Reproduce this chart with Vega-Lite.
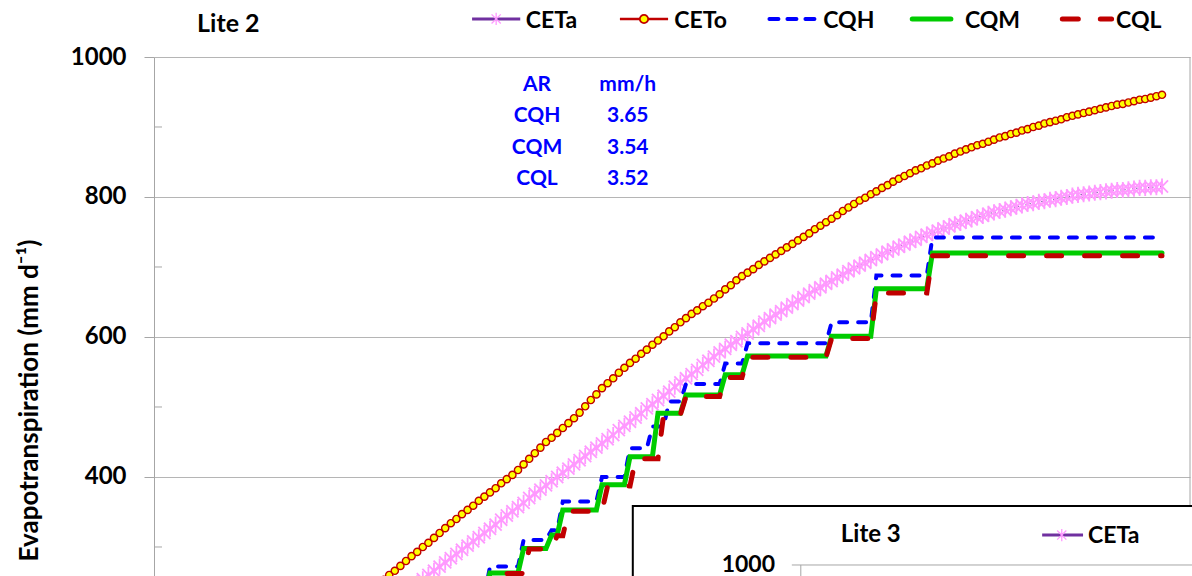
{
  "$schema": "https://vega.github.io/schema/vega-lite/v6.json",
  "autosize": "none",
  "width": 1036,
  "height": 519,
  "padding": {"left": 154, "top": 57, "right": 2, "bottom": 0},
  "background": "white",
  "config": {
    "view": {"stroke": null},
    "axisX": {"disable": true},
    "axisY": {
      "domainColor": "#A6A6A6", "gridColor": "#B5B5B5", "tickColor": "#A6A6A6", "tickSize": 10, "labelPadding": 18,
      "labelFont": "Lato", "labelFontSize": 24, "labelFontWeight": "bold", "labelColor": "black",
      "titleFont": "Lato", "titleFontSize": 26, "titleFontWeight": "bold", "titleColor": "black",
      "titleAngle": -90, "titleX": -125, "titleY": 343, "titleAlign": "center", "titleBaseline": "middle"
    }
  },
  "datasets": {
    "et": [
      {"day":40,"CETo":246,"CETa":206},{"day":41,"CETo":253,"CETa":212},{"day":42,"CETo":260,"CETa":218},{"day":43,"CETo":266,"CETa":224},{"day":44,"CETo":273,"CETa":230},
      {"day":45,"CETo":280,"CETa":236},{"day":46,"CETo":287,"CETa":242},{"day":47,"CETo":293,"CETa":248},{"day":48,"CETo":300,"CETa":254},{"day":49,"CETo":306,"CETa":260},
      {"day":50,"CETo":313,"CETa":266},{"day":51,"CETo":320,"CETa":272},{"day":52,"CETo":327,"CETa":278},{"day":53,"CETo":334,"CETa":284},{"day":54,"CETo":340,"CETa":290},
      {"day":55,"CETo":347,"CETa":296},{"day":56,"CETo":353,"CETa":302},{"day":57,"CETo":359,"CETa":308},{"day":58,"CETo":366,"CETa":314},{"day":59,"CETo":372,"CETa":320},
      {"day":60,"CETo":378,"CETa":326},{"day":61,"CETo":384,"CETa":332},{"day":62,"CETo":391,"CETa":339},{"day":63,"CETo":397,"CETa":345},{"day":64,"CETo":403,"CETa":351},
      {"day":65,"CETo":410,"CETa":357},{"day":66,"CETo":418,"CETa":363},{"day":67,"CETo":426,"CETa":370},{"day":68,"CETo":434,"CETa":376},{"day":69,"CETo":442,"CETa":382},
      {"day":70,"CETo":450,"CETa":388},{"day":71,"CETo":456,"CETa":394},{"day":72,"CETo":463,"CETa":400},{"day":73,"CETo":470,"CETa":406},{"day":74,"CETo":477,"CETa":412},
      {"day":75,"CETo":484,"CETa":418},{"day":76,"CETo":492,"CETa":424},{"day":77,"CETo":501,"CETa":430},{"day":78,"CETo":510,"CETa":436},{"day":79,"CETo":518,"CETa":442},
      {"day":80,"CETo":527,"CETa":448},{"day":81,"CETo":534,"CETa":454},{"day":82,"CETo":541,"CETa":460},{"day":83,"CETo":549,"CETa":467},{"day":84,"CETo":556,"CETa":473},
      {"day":85,"CETo":563,"CETa":479},{"day":86,"CETo":569,"CETa":485},{"day":87,"CETo":576,"CETa":491},{"day":88,"CETo":582,"CETa":498},{"day":89,"CETo":589,"CETa":504},
      {"day":90,"CETo":595,"CETa":510},{"day":91,"CETo":601,"CETa":516},{"day":92,"CETo":608,"CETa":522},{"day":93,"CETo":614,"CETa":529},{"day":94,"CETo":621,"CETa":535},
      {"day":95,"CETo":627,"CETa":541},{"day":96,"CETo":633,"CETa":547},{"day":97,"CETo":638,"CETa":553},{"day":98,"CETo":644,"CETa":560},{"day":99,"CETo":649,"CETa":566},
      {"day":100,"CETo":655,"CETa":572},{"day":101,"CETo":661,"CETa":578},{"day":102,"CETo":668,"CETa":583},{"day":103,"CETo":674,"CETa":589},{"day":104,"CETo":681,"CETa":594},
      {"day":105,"CETo":687,"CETa":600},{"day":106,"CETo":692,"CETa":605},{"day":107,"CETo":697,"CETa":611},{"day":108,"CETo":703,"CETa":616},{"day":109,"CETo":708,"CETa":622},
      {"day":110,"CETo":713,"CETa":627},{"day":111,"CETo":718,"CETa":632},{"day":112,"CETo":723,"CETa":637},{"day":113,"CETo":728,"CETa":642},{"day":114,"CETo":733,"CETa":647},
      {"day":115,"CETo":738,"CETa":652},{"day":116,"CETo":743,"CETa":657},{"day":117,"CETo":748,"CETa":662},{"day":118,"CETo":754,"CETa":667},{"day":119,"CETo":759,"CETa":671},
      {"day":120,"CETo":764,"CETa":676},{"day":121,"CETo":769,"CETa":680},{"day":122,"CETo":774,"CETa":685},{"day":123,"CETo":780,"CETa":689},{"day":124,"CETo":785,"CETa":694},
      {"day":125,"CETo":790,"CETa":698},{"day":126,"CETo":795,"CETa":702},{"day":127,"CETo":799,"CETa":706},{"day":128,"CETo":804,"CETa":710},{"day":129,"CETo":808,"CETa":714},
      {"day":130,"CETo":813,"CETa":718},{"day":131,"CETo":817,"CETa":722},{"day":132,"CETo":822,"CETa":725},{"day":133,"CETo":826,"CETa":729},{"day":134,"CETo":830,"CETa":732},
      {"day":135,"CETo":834,"CETa":736},{"day":136,"CETo":838,"CETa":739},{"day":137,"CETo":841,"CETa":743},{"day":138,"CETo":845,"CETa":746},{"day":139,"CETo":848,"CETa":749},
      {"day":140,"CETo":852,"CETa":752},{"day":141,"CETo":855,"CETa":755},{"day":142,"CETo":858,"CETa":758},{"day":143,"CETo":862,"CETa":761},{"day":144,"CETo":865,"CETa":763},
      {"day":145,"CETo":868,"CETa":766},{"day":146,"CETo":871,"CETa":768},{"day":147,"CETo":874,"CETa":771},{"day":148,"CETo":876,"CETa":773},{"day":149,"CETo":879,"CETa":776},
      {"day":150,"CETo":882,"CETa":778},{"day":151,"CETo":885,"CETa":780},{"day":152,"CETo":887,"CETa":782},{"day":153,"CETo":890,"CETa":784},{"day":154,"CETo":892,"CETa":786},
      {"day":155,"CETo":895,"CETa":788},{"day":156,"CETo":897,"CETa":790},{"day":157,"CETo":900,"CETa":791},{"day":158,"CETo":902,"CETa":793},{"day":159,"CETo":905,"CETa":794},
      {"day":160,"CETo":907,"CETa":796},{"day":161,"CETo":909,"CETa":797},{"day":162,"CETo":911,"CETa":799},{"day":163,"CETo":914,"CETa":800},{"day":164,"CETo":916,"CETa":802},
      {"day":165,"CETo":918,"CETa":803},{"day":166,"CETo":920,"CETa":804},{"day":167,"CETo":922,"CETa":805},{"day":168,"CETo":924,"CETa":806},{"day":169,"CETo":926,"CETa":807},
      {"day":170,"CETo":928,"CETa":808},{"day":171,"CETo":930,"CETa":809},{"day":172,"CETo":932,"CETa":810},{"day":173,"CETo":933,"CETa":810},{"day":174,"CETo":935,"CETa":811},
      {"day":175,"CETo":937,"CETa":812},{"day":176,"CETo":939,"CETa":813},{"day":177,"CETo":940,"CETa":813},{"day":178,"CETo":942,"CETa":814},{"day":179,"CETo":944,"CETa":814},
      {"day":180,"CETo":946,"CETa":815}
    ],
    "steps": [
      {"day":59,"series":"CQH","value":230},{"day":60,"series":"CQH","value":272},{"day":65,"series":"CQH","value":272},{"day":66,"series":"CQH","value":310},
      {"day":70,"series":"CQH","value":310},{"day":71,"series":"CQH","value":324},{"day":72,"series":"CQH","value":324},{"day":73,"series":"CQH","value":365},
      {"day":79,"series":"CQH","value":365},{"day":80,"series":"CQH","value":400},{"day":84,"series":"CQH","value":400},{"day":85,"series":"CQH","value":441},
      {"day":88,"series":"CQH","value":441},{"day":89,"series":"CQH","value":472},{"day":91,"series":"CQH","value":472},{"day":92,"series":"CQH","value":508},
      {"day":94,"series":"CQH","value":508},{"day":95,"series":"CQH","value":533},{"day":101,"series":"CQH","value":533},{"day":102,"series":"CQH","value":562},
      {"day":105,"series":"CQH","value":562},{"day":106,"series":"CQH","value":591},{"day":120,"series":"CQH","value":591},{"day":121,"series":"CQH","value":621},
      {"day":128,"series":"CQH","value":621},{"day":129,"series":"CQH","value":688},{"day":138,"series":"CQH","value":688},{"day":139,"series":"CQH","value":742},
      {"day":180,"series":"CQH","value":742},
      {"day":59,"series":"CQM","value":225},{"day":60,"series":"CQM","value":263},{"day":65,"series":"CQM","value":263},{"day":66,"series":"CQM","value":298},
      {"day":70,"series":"CQM","value":298},{"day":71,"series":"CQM","value":317},{"day":72,"series":"CQM","value":317},{"day":73,"series":"CQM","value":353},
      {"day":79,"series":"CQM","value":353},{"day":80,"series":"CQM","value":389},{"day":84,"series":"CQM","value":389},{"day":85,"series":"CQM","value":429},
      {"day":89,"series":"CQM","value":429},{"day":90,"series":"CQM","value":491},{"day":94,"series":"CQM","value":491},{"day":95,"series":"CQM","value":517},
      {"day":101,"series":"CQM","value":517},{"day":102,"series":"CQM","value":546},{"day":105,"series":"CQM","value":546},{"day":106,"series":"CQM","value":573},
      {"day":120,"series":"CQM","value":573},{"day":121,"series":"CQM","value":601},{"day":128,"series":"CQM","value":601},{"day":129,"series":"CQM","value":669},
      {"day":138,"series":"CQM","value":669},{"day":139,"series":"CQM","value":720},{"day":180,"series":"CQM","value":720},
      {"day":60,"series":"CQL","value":225},{"day":61,"series":"CQL","value":262},{"day":66,"series":"CQL","value":262},{"day":67,"series":"CQL","value":297},
      {"day":71,"series":"CQL","value":297},{"day":72,"series":"CQL","value":316},{"day":73,"series":"CQL","value":316},{"day":74,"series":"CQL","value":351},
      {"day":80,"series":"CQL","value":351},{"day":81,"series":"CQL","value":387},{"day":85,"series":"CQL","value":387},{"day":86,"series":"CQL","value":426},
      {"day":90,"series":"CQL","value":426},{"day":91,"series":"CQL","value":489},{"day":94,"series":"CQL","value":489},{"day":95,"series":"CQL","value":515},
      {"day":101,"series":"CQL","value":515},{"day":102,"series":"CQL","value":542},{"day":105,"series":"CQL","value":542},{"day":106,"series":"CQL","value":571},
      {"day":120,"series":"CQL","value":571},{"day":121,"series":"CQL","value":598},{"day":128,"series":"CQL","value":598},{"day":129,"series":"CQL","value":663},
      {"day":138,"series":"CQL","value":663},{"day":139,"series":"CQL","value":716},{"day":180,"series":"CQL","value":716}
    ]
  },
  "layer": [
    {
      "data": {"values": [{}]},
      "mark": {"type": "rule", "color": "#A6A6A6", "strokeWidth": 1},
      "encoding": {"x": {"datum": 185, "scale": {"domain": [0, 185], "nice": false, "zero": false}}}
    },
    {
      "data": {"values": [{"tick": 300}, {"tick": 500}, {"tick": 700}, {"tick": 900}]},
      "mark": {"type": "rule", "color": "#A6A6A6", "strokeWidth": 1},
      "encoding": {
        "x": {"datum": 0},
        "x2": {"datum": 1.43},
        "y": {"field": "tick", "type": "quantitative", "title": "Evapotranspiration (mm d⁻¹)", "scale": {"domain": [258.57, 1000], "nice": false, "zero": false}, "axis": {"values": [400, 600, 800, 1000], "grid": true, "format": "d"}}
      }
    },
    {
      "data": {"name": "et"},
      "mark": {"type": "line", "strokeWidth": 1.2, "strokeDash": [1.5, 2.5], "color": "#7030A0", "opacity": 0.8, "clip": true},
      "encoding": {
        "x": {"field": "day", "type": "quantitative", "scale": {"domain": [0, 185], "nice": false, "zero": false}},
        "y": {"field": "CETa", "type": "quantitative", "title": "Evapotranspiration (mm d⁻¹)"}
      }
    },
    {
      "data": {"name": "et"},
      "mark": {"type": "point", "shape": "M0,-1V1M-0.75,-0.75L0.75,0.75M-0.75,0.75L0.75,-0.75", "size": 260, "filled": false, "color": "#FF99FF", "strokeWidth": 1.8, "opacity": 1, "clip": true},
      "encoding": {
        "x": {"field": "day", "type": "quantitative"},
        "y": {"field": "CETa", "type": "quantitative", "title": "Evapotranspiration (mm d⁻¹)"}
      }
    },
    {
      "data": {"name": "et"},
      "mark": {"type": "line", "strokeWidth": 1.5, "color": "#C00000", "clip": true},
      "encoding": {
        "x": {"field": "day", "type": "quantitative"},
        "y": {"field": "CETo", "type": "quantitative", "title": "Evapotranspiration (mm d⁻¹)"}
      }
    },
    {
      "data": {"name": "et"},
      "mark": {"type": "point", "shape": "circle", "size": 52, "filled": true, "fill": "#FFFF00", "stroke": "#C00000", "strokeWidth": 1.4, "opacity": 1, "clip": true},
      "encoding": {
        "x": {"field": "day", "type": "quantitative"},
        "y": {"field": "CETo", "type": "quantitative", "title": "Evapotranspiration (mm d⁻¹)"}
      }
    },
    {
      "data": {"name": "steps"},
      "transform": [{"filter": "datum.series === 'CQH'"}],
      "mark": {"type": "line", "strokeWidth": 4, "strokeDash": [8, 11], "strokeCap": "round", "color": "#0000FF", "clip": true},
      "encoding": {
        "x": {"field": "day", "type": "quantitative"},
        "y": {"field": "value", "type": "quantitative", "title": "Evapotranspiration (mm d⁻¹)"}
      }
    },
    {
      "data": {"name": "steps"},
      "transform": [{"filter": "datum.series === 'CQM'"}],
      "mark": {"type": "line", "strokeWidth": 5, "strokeCap": "round", "color": "#00CC00", "clip": true},
      "encoding": {
        "x": {"field": "day", "type": "quantitative"},
        "y": {"field": "value", "type": "quantitative", "title": "Evapotranspiration (mm d⁻¹)"}
      }
    },
    {
      "data": {"name": "steps"},
      "transform": [{"filter": "datum.series === 'CQL'"}],
      "mark": {"type": "line", "strokeWidth": 5, "strokeDash": [15, 23], "strokeCap": "round", "color": "#C00000", "clip": true},
      "encoding": {
        "x": {"field": "day", "type": "quantitative"},
        "y": {"field": "value", "type": "quantitative", "title": "Evapotranspiration (mm d⁻¹)"}
      }
    },
    {
      "data": {"values": [{}]},
      "mark": {"type": "text", "text": "Lite 2", "align": "left", "baseline": "alphabetic", "font": "Lato", "fontSize": 25, "fontWeight": "bold", "color": "black"},
      "encoding": {"x": {"datum": 7.7}, "y": {"datum": 1036.4}}
    },
    {
      "data": {"values": [{}]},
      "mark": {"type": "rule", "color": "#7030A0", "strokeWidth": 3},
      "encoding": {"x": {"datum": 56.8}, "x2": {"datum": 65.4}, "y": {"datum": 1054.3}}
    },
    {
      "data": {"values": [{}]},
      "mark": {"type": "point", "shape": "M0,-1V1M-0.75,-0.75L0.75,0.75M-0.75,0.75L0.75,-0.75", "size": 150, "filled": false, "color": "#FF99FF", "strokeWidth": 1.3, "opacity": 1},
      "encoding": {"x": {"datum": 61.1}, "y": {"datum": 1054.3}}
    },
    {
      "data": {"values": [{}]},
      "mark": {"type": "text", "text": "CETa", "align": "left", "baseline": "middle", "font": "Lato", "fontSize": 23, "fontWeight": "bold", "color": "black"},
      "encoding": {"x": {"datum": 66.4}, "y": {"datum": 1051.4}}
    },
    {
      "data": {"values": [{}]},
      "mark": {"type": "rule", "color": "#C00000", "strokeWidth": 2.5},
      "encoding": {"x": {"datum": 83.2}, "x2": {"datum": 91.8}, "y": {"datum": 1054.3}}
    },
    {
      "data": {"values": [{}]},
      "mark": {"type": "point", "shape": "circle", "size": 70, "filled": true, "fill": "#FFFF00", "stroke": "#C00000", "strokeWidth": 1.8, "opacity": 1},
      "encoding": {"x": {"datum": 87.5}, "y": {"datum": 1054.3}}
    },
    {
      "data": {"values": [{}]},
      "mark": {"type": "text", "text": "CETo", "align": "left", "baseline": "middle", "font": "Lato", "fontSize": 23, "fontWeight": "bold", "color": "black"},
      "encoding": {"x": {"datum": 92.9}, "y": {"datum": 1051.4}}
    },
    {
      "data": {"values": [{}]},
      "mark": {"type": "rule", "color": "#0000FF", "strokeWidth": 4, "strokeDash": [9, 9], "strokeCap": "round"},
      "encoding": {"x": {"datum": 109.9}, "x2": {"datum": 118}, "y": {"datum": 1054.3}}
    },
    {
      "data": {"values": [{}]},
      "mark": {"type": "text", "text": "CQH", "align": "left", "baseline": "middle", "font": "Lato", "fontSize": 23, "fontWeight": "bold", "color": "black"},
      "encoding": {"x": {"datum": 119.5}, "y": {"datum": 1051.4}}
    },
    {
      "data": {"values": [{}]},
      "mark": {"type": "rule", "color": "#00CC00", "strokeWidth": 5, "strokeCap": "round"},
      "encoding": {"x": {"datum": 135.4}, "x2": {"datum": 142.3}, "y": {"datum": 1054.3}}
    },
    {
      "data": {"values": [{}]},
      "mark": {"type": "text", "text": "CQM", "align": "left", "baseline": "middle", "font": "Lato", "fontSize": 23, "fontWeight": "bold", "color": "black"},
      "encoding": {"x": {"datum": 144.8}, "y": {"datum": 1051.4}}
    },
    {
      "data": {"values": [{}]},
      "mark": {"type": "rule", "color": "#C00000", "strokeWidth": 5, "strokeDash": [16, 22], "strokeCap": "round"},
      "encoding": {"x": {"datum": 162.2}, "x2": {"datum": 171}, "y": {"datum": 1054.3}}
    },
    {
      "data": {"values": [{}]},
      "mark": {"type": "text", "text": "CQL", "align": "left", "baseline": "middle", "font": "Lato", "fontSize": 23, "fontWeight": "bold", "color": "black"},
      "encoding": {"x": {"datum": 171.8}, "y": {"datum": 1051.4}}
    },
    {
      "data": {"values": [{}]},
      "mark": {"type": "text", "text": ["AR", "CQH", "CQM", "CQL"], "lineHeight": 31.4, "align": "center", "baseline": "alphabetic", "font": "Lato", "fontSize": 21, "fontWeight": "bold", "color": "#0000FF"},
      "encoding": {"x": {"datum": 68.4}, "y": {"datum": 951.4}}
    },
    {
      "data": {"values": [{}]},
      "mark": {"type": "text", "text": ["mm/h", "3.65", "3.54", "3.52"], "lineHeight": 31.4, "align": "center", "baseline": "alphabetic", "font": "Lato", "fontSize": 21, "fontWeight": "bold", "color": "#0000FF"},
      "encoding": {"x": {"datum": 84.6}, "y": {"datum": 951.4}}
    },
    {
      "data": {"values": [{}]},
      "mark": {"type": "rect", "fill": "white", "stroke": "black", "strokeWidth": 2},
      "encoding": {"x": {"datum": 85.5}, "x2": {"datum": 186.5}, "y": {"datum": 358.6}, "y2": {"datum": 150}}
    },
    {
      "data": {"values": [{}]},
      "mark": {"type": "rule", "color": "#A6A6A6", "strokeWidth": 1},
      "encoding": {"x": {"datum": 113.9}, "x2": {"datum": 186.5}, "y": {"datum": 274.3}}
    },
    {
      "data": {"values": [{}]},
      "mark": {"type": "rule", "color": "#A6A6A6", "strokeWidth": 1},
      "encoding": {"x": {"datum": 115.5}, "y": {"datum": 274.3}, "y2": {"datum": 150}}
    },
    {
      "data": {"values": [{}]},
      "mark": {"type": "text", "text": "1000", "align": "right", "baseline": "middle", "font": "Lato", "fontSize": 23, "fontWeight": "bold", "color": "black"},
      "encoding": {"x": {"datum": 110.9}, "y": {"datum": 274.3}}
    },
    {
      "data": {"values": [{}]},
      "mark": {"type": "text", "text": "Lite 3", "align": "center", "baseline": "alphabetic", "font": "Lato", "fontSize": 24, "fontWeight": "bold", "color": "black"},
      "encoding": {"x": {"datum": 128}, "y": {"datum": 307.1}}
    },
    {
      "data": {"values": [{}]},
      "mark": {"type": "rule", "color": "#7030A0", "strokeWidth": 3},
      "encoding": {"x": {"datum": 158.6}, "x2": {"datum": 165.9}, "y": {"datum": 317.1}}
    },
    {
      "data": {"values": [{}]},
      "mark": {"type": "point", "shape": "M0,-1V1M-0.75,-0.75L0.75,0.75M-0.75,0.75L0.75,-0.75", "size": 150, "filled": false, "color": "#FF99FF", "strokeWidth": 1.3, "opacity": 1},
      "encoding": {"x": {"datum": 162.1}, "y": {"datum": 317.1}}
    },
    {
      "data": {"values": [{}]},
      "mark": {"type": "text", "text": "CETa", "align": "left", "baseline": "alphabetic", "font": "Lato", "fontSize": 23, "fontWeight": "bold", "color": "black"},
      "encoding": {"x": {"datum": 166.8}, "y": {"datum": 305.7}}
    }
  ]
}
